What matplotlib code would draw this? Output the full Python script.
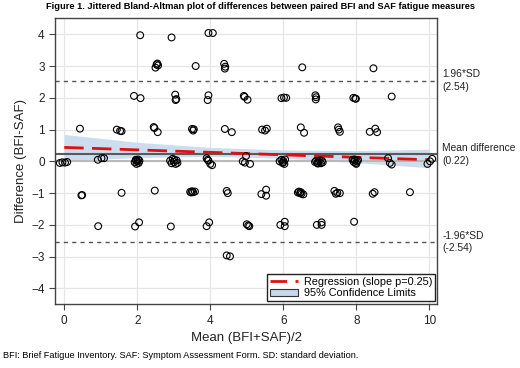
"""Jittered Bland-Altman plot of BFI vs SAF fatigue measures."""

import matplotlib
matplotlib.use("Agg")
import matplotlib.pyplot as plt
from matplotlib.lines import Line2D
from matplotlib.patches import Patch

plt.rcParams["font.family"] = ["Liberation Sans", "DejaVu Sans"]

# jittered points: mean (x) and difference (y)
mean_vals = [
    # diff ~ 4
    2.08, 2.94, 3.95, 4.07,
    # diff ~ 3
    2.50, 2.53, 2.57, 2.55, 3.60, 4.38, 4.41, 4.40, 6.52, 8.47,
    # diff ~ 2
    1.91, 2.09, 3.04, 3.05, 3.07, 3.95, 3.93, 4.92, 4.94, 5.02,
    5.95, 6.02, 6.08, 6.88, 6.90, 6.89, 7.92, 7.97, 7.99, 8.97,
    # diff ~ 1
    0.43, 1.44, 1.53, 1.57, 2.45, 2.47, 2.56, 3.50, 3.53, 3.55,
    4.40, 4.59, 5.42, 5.50, 5.55, 6.48, 6.57, 7.50, 7.52, 7.55,
    8.37, 8.52, 8.57,
    # diff ~ 0
    -0.12, -0.05, 0.02, 0.08, 0.92, 1.02, 1.09,
    1.93, 1.96, 1.98, 2.00, 2.02, 2.04, 2.06, 1.97,
    2.90, 2.94, 2.97, 3.00, 3.02, 3.05, 3.08, 3.10,
    3.90, 3.95, 4.00, 4.05, 3.93,
    4.89, 4.98, 5.09, 4.95,
    5.90, 5.95, 5.98, 6.00, 6.03, 6.05, 6.00,
    6.87, 6.90, 6.93, 6.96, 7.00, 7.03, 7.06, 7.08, 6.95,
    7.90, 7.93, 7.96, 7.99, 8.02, 8.05, 8.00, 7.95,
    8.87, 8.92, 8.97, 9.95, 10.02, 10.08,
    # diff ~ -1
    0.47, 0.49, 1.57, 2.48, 3.45, 3.48, 3.50, 3.53, 3.58, 4.45,
    4.48, 5.40, 5.53, 5.53, 6.40, 6.43, 6.46, 6.48, 6.50, 6.55,
    7.40, 7.44, 7.48, 7.55, 8.45, 8.50, 9.47,
    # diff ~ -2
    0.93, 1.94, 2.05, 2.92, 3.90, 3.97, 5.00, 5.04, 5.07, 5.92,
    6.04, 6.04, 6.92, 7.05, 7.05, 7.94,
    # diff ~ -3
    4.45, 4.54,
]
diff_vals = [
    3.97, 3.90, 4.04, 4.04,
    2.95, 3.05, 3.02, 3.08, 3.00, 3.07, 2.98, 2.92, 2.96, 2.93,
    2.06, 1.99, 2.10, 1.93, 1.96, 2.08, 1.93, 2.06, 2.03, 1.94,
    1.99, 2.01, 2.00, 2.08, 2.02, 1.95, 2.00, 1.98, 1.97, 2.04,
    1.03, 1.00, 0.96, 0.95, 1.08, 1.05, 0.92, 1.02, 0.97, 1.01,
    1.02, 0.92, 1.00, 0.97, 1.03, 1.07, 0.90, 1.07, 1.00, 0.93,
    0.93, 1.03, 0.92,
    -0.05, -0.03, -0.04, -0.02, 0.05, 0.10, 0.10,
    -0.03, 0.05, -0.08, 0.00, 0.06, -0.05, 0.02, 0.02,
    0.02, -0.06, 0.08, -0.02, 0.05, -0.08, 0.03, -0.05,
    0.10, 0.02, -0.08, -0.12, 0.05,
    0.00, 0.17, -0.08, -0.04,
    0.00, 0.05, -0.05, 0.02, -0.08, 0.06, -0.03,
    -0.02, 0.02, -0.05, 0.00, 0.03, -0.06, 0.02, -0.03, -0.07,
    0.05, -0.02, 0.03, -0.05, 0.00, 0.04, -0.08, 0.06,
    0.10, -0.05, -0.10, -0.08, 0.00, 0.08,
    -1.07, -1.06, -0.99, -0.92, -0.96, -0.98, -0.94, -0.97, -0.95, -0.93,
    -1.00, -1.03, -0.89, -1.08, -0.98, -0.95, -1.00, -0.97, -1.02, -1.04,
    -0.93, -1.02, -0.99, -1.00, -1.02, -0.97, -0.97,
    -2.04, -2.05, -1.92, -2.05, -2.04, -1.92, -1.98, -2.02, -2.04, -2.00,
    -1.90, -2.04, -2.00, -1.92, -2.00, -1.90,
    -2.96, -2.99,
]

mean_diff = 0.22
loa = 2.54

# regression line and its 95% band
reg_x = [0, 10]
reg_y = [0.44, 0.05]
band_x = [0, 2, 4, 6, 8, 10]
band_lo = [0.02, 0.12, 0.16, 0.10, -0.04, -0.20]
band_hi = [0.85, 0.60, 0.44, 0.36, 0.34, 0.38]

x_ticks = [0, 2, 4, 6, 8, 10]
y_ticks = [-4, -3, -2, -1, 0, 1, 2, 3, 4]

fig = plt.figure(figsize=(5.2, 3.68), dpi=100)
ax = fig.add_axes([0.106, 0.173, 0.735, 0.777])

ax.fill_between(band_x, band_lo, band_hi, color="#c6daee", alpha=0.9, lw=0, zorder=1)
ax.axhline(0, color="#b4b4b4", lw=1.3, zorder=1.5)
ax.axhline(mean_diff, color="#5a5a5a", lw=1.5, zorder=2)
ax.axhline(loa, color="#555555", lw=1, ls=(0, (3, 3)), zorder=2)
ax.axhline(-loa, color="#555555", lw=1, ls=(0, (3, 3)), zorder=2)
ax.plot(reg_x, reg_y, color="#e01010", lw=2, ls=(0, (7, 3)), zorder=3)

ax.scatter(mean_vals, diff_vals, s=24, facecolors="none", edgecolors="black",
           linewidths=0.8, zorder=4)

ax.set_xlim(-0.25, 10.22)
ax.set_ylim(-4.5, 4.5)
ax.set_xticks(x_ticks)
ax.set_yticks(y_ticks)
ax.grid(True, color="#e6e6e6", lw=0.9, zorder=0)
ax.set_axisbelow(True)
for s in ax.spines.values():
    s.set_color("#444444")
    s.set_linewidth(1)
ax.tick_params(colors="#444444", labelcolor="#222222", labelsize=8.5, length=4)

ax.set_xlabel("Mean (BFI+SAF)/2", fontsize=9.5, color="#222222", labelpad=4)
ax.set_ylabel("Difference (BFI-SAF)", fontsize=9.5, color="#222222", labelpad=3)

# right-hand labels
tx = 1.013
for yv, txt in [(loa, "1.96*SD\n(2.54)"),
                (mean_diff, "Mean difference\n(0.22)"),
                (-loa, "-1.96*SD\n(-2.54)")]:
    ax.text(tx, yv, txt, transform=ax.get_yaxis_transform(), fontsize=7.4,
            va="center", ha="left", color="#222222", linespacing=1.3)

handles = [
    Line2D([], [], color="#e01010", lw=2, ls=(0, (6, 3))),
    Patch(facecolor="#c6daee", edgecolor="#333333", lw=0.8),
]
leg = ax.legend(handles, ["Regression (slope p=0.25)", "95% Confidence Limits"],
                loc="lower right", bbox_to_anchor=(0.995, 0.012), fontsize=7.8,
                frameon=True, fancybox=False, framealpha=1, handlelength=2.6,
                handleheight=0.7, borderpad=0.25, labelspacing=0.1,
                handletextpad=0.6, borderaxespad=0)
leg.get_frame().set_edgecolor("#222222")
leg.get_frame().set_linewidth(1)

fig.text(0.5, 0.981, "Figure 1. Jittered Bland-Altman plot of differences between "
         "paired BFI and SAF fatigue measures", fontsize=6.7, fontweight="bold",
         ha="center", va="center")
fig.text(0.006, 0.035, "BFI: Brief Fatigue Inventory. SAF: Symptom Assessment Form. "
         "SD: standard deviation.", fontsize=6.6, ha="left", va="center")

fig.savefig("out.png", dpi=100)
